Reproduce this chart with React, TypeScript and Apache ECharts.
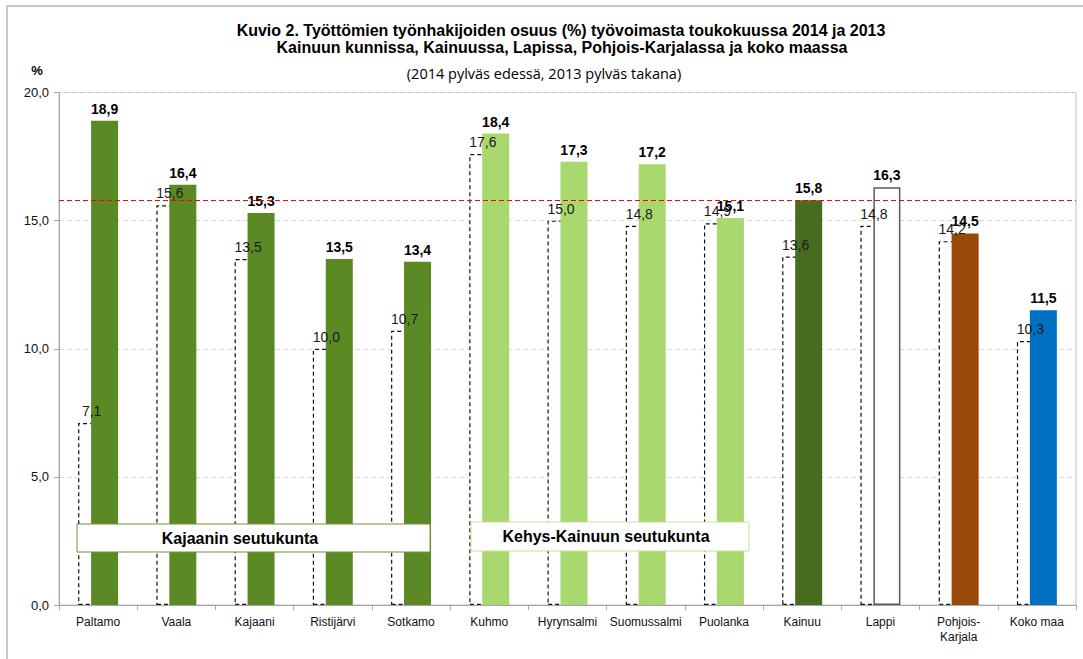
import React, { useEffect, useRef } from "react";
import * as echarts from "echarts";

const categories = [
  "Paltamo", "Vaala", "Kajaani", "Ristijärvi", "Sotkamo",
  "Kuhmo", "Hyrynsalmi", "Suomussalmi", "Puolanka",
  "Kainuu", "Lappi", "Pohjois-\nKarjala", "Koko maa",
];
const values2014 = [18.9, 16.4, 15.3, 13.5, 13.4, 18.4, 17.3, 17.2, 15.1, 15.8, 16.3, 14.5, 11.5];
const values2013 = [7.1, 15.6, 13.5, 10.0, 10.7, 17.6, 15.0, 14.8, 14.9, 13.6, 14.8, 14.2, 10.3];
const colors2014 = [
  "#5B8A25", "#5B8A25", "#5B8A25", "#5B8A25", "#5B8A25",
  "#A9D86E", "#A9D86E", "#A9D86E", "#A9D86E",
  "#476B1F", "#FFFFFF", "#984807", "#0070C0",
];
const referenceLine = 15.8;
const yTicks = [0, 5, 10, 15, 20];

const fmt = (v: number) => v.toFixed(1).replace(".", ",");
const FONT = "'Liberation Sans', Arial, sans-serif";
const SOFT = "'Open Sans', 'Liberation Sans', sans-serif";

export default function App() {
  const ref = useRef<HTMLDivElement>(null);
  useEffect(() => {
    if (!ref.current) return;
    const chart = echarts.init(ref.current, null, { renderer: "svg" });
    chart.setOption({
      animation: false,
      textStyle: { fontFamily: FONT },
      grid: {
        left: 59, right: 7, top: 92.5, bottom: 54,
        show: true, borderColor: "#BFBFBF", borderWidth: 1,
      },
      xAxis: {
        type: "category",
        data: categories,
        axisLine: { lineStyle: { color: "#A6A6A6" } },
        axisTick: { show: true, length: 5, lineStyle: { color: "#A6A6A6" } },
        axisLabel: { color: "#111", fontSize: 12, margin: 9, lineHeight: 15, fontFamily: FONT, interval: 0 },
      },
      yAxis: {
        type: "value",
        min: yTicks[0],
        max: yTicks[yTicks.length - 1],
        interval: 5,
        axisLine: { show: true, lineStyle: { color: "#A6A6A6" } },
        axisTick: { show: true, length: 5, lineStyle: { color: "#A6A6A6" } },
        axisLabel: { color: "#111", fontSize: 13, margin: 10, formatter: (v: number) => fmt(v), fontFamily: FONT },
        splitLine: { lineStyle: { color: "#D9D9D9", type: [5, 3] } },
      },
      series: [
        {
          name: "2013",
          type: "bar",
          barWidth: 27,
          barGap: "-52%",
          data: values2013,
          itemStyle: { color: "#FFFFFF", borderColor: "#111", borderWidth: 1.2, borderType: [4, 3] },
          label: {
            show: true, position: "top", distance: 5,
            formatter: (p: any) => fmt(p.value),
            fontSize: 14, color: "#1a1a1a", fontFamily: FONT,
          },
          z: 2,
        },
        {
          name: "2014",
          type: "bar",
          barWidth: 27,
          data: values2014.map((v, i) => ({
            value: v,
            itemStyle: colors2014[i] === "#FFFFFF"
              ? { color: "#FFFFFF", borderColor: "#595959", borderWidth: 1.5 }
              : { color: colors2014[i] },
          })),
          label: {
            show: true, position: "top", distance: 5,
            formatter: (p: any) => fmt(p.value),
            fontSize: 14, fontWeight: "bold", color: "#000", fontFamily: FONT,
          },
          markLine: {
            silent: true,
            symbol: "none",
            label: { show: false },
            lineStyle: { color: "#FF0000", type: [5, 3], width: 1.2 },
            data: [{ yAxis: referenceLine }],
          },
          z: 2,
        },
      ],
      graphic: [
        {
          type: "rect", z: 0, silent: true,
          shape: { x: 7, y: 6, width: 1090, height: 700 },
          style: { fill: "none", stroke: "#C8C8C8", lineWidth: 2 },
        },
        {
          type: "text", z: 100, x: 561, y: 30,
          style: {
            text: "Kuvio 2. Työttömien työnhakijoiden osuus (%) työvoimasta toukokuussa 2014 ja 2013",
            font: `bold 16px ${FONT}`, fill: "#000", textAlign: "center", textVerticalAlign: "middle",
          },
        },
        {
          type: "text", z: 100, x: 562, y: 47,
          style: {
            text: "Kainuun kunnissa, Kainuussa, Lapissa, Pohjois-Karjalassa ja koko maassa",
            font: `bold 16px ${FONT}`, fill: "#000", textAlign: "center", textVerticalAlign: "middle",
          },
        },
        {
          type: "text", z: 100, x: 544, y: 73,
          style: {
            text: "(2014 pylväs edessä, 2013 pylväs takana)",
            font: `14.5px ${SOFT}`, fill: "#000", textAlign: "center", textVerticalAlign: "middle",
          },
        },
        {
          type: "text", z: 100, x: 37, y: 70,
          style: {
            text: "%", font: `bold 13px ${FONT}`, fill: "#000", textAlign: "center", textVerticalAlign: "middle",
          },
        },
        {
          type: "group", z: 100,
          children: [
            {
              type: "rect", z: 100,
              shape: { x: 77, y: 524, width: 353, height: 28 },
              style: { fill: "#FFFFFF", stroke: "#77933C", lineWidth: 1 },
            },
            {
              type: "text", z: 101, x: 240, y: 538,
              style: {
                text: "Kajaanin seutukunta", font: `bold 16px ${FONT}`, fill: "#000",
                textAlign: "center", textVerticalAlign: "middle",
              },
            },
            {
              type: "rect", z: 100,
              shape: { x: 471, y: 522, width: 278, height: 29 },
              style: { fill: "#FFFFFF", stroke: "#C3E39B", lineWidth: 1 },
            },
            {
              type: "text", z: 101, x: 606, y: 536,
              style: {
                text: "Kehys-Kainuun seutukunta", font: `bold 16px ${FONT}`, fill: "#000",
                textAlign: "center", textVerticalAlign: "middle",
              },
            },
          ],
        },
      ],
    });
    return () => chart.dispose();
  }, []);
  return (
    <div
      ref={ref}
      style={{ position: "fixed", left: 0, top: 0, width: 1083, height: 659, background: "#fff" }}
    />
  );
}
